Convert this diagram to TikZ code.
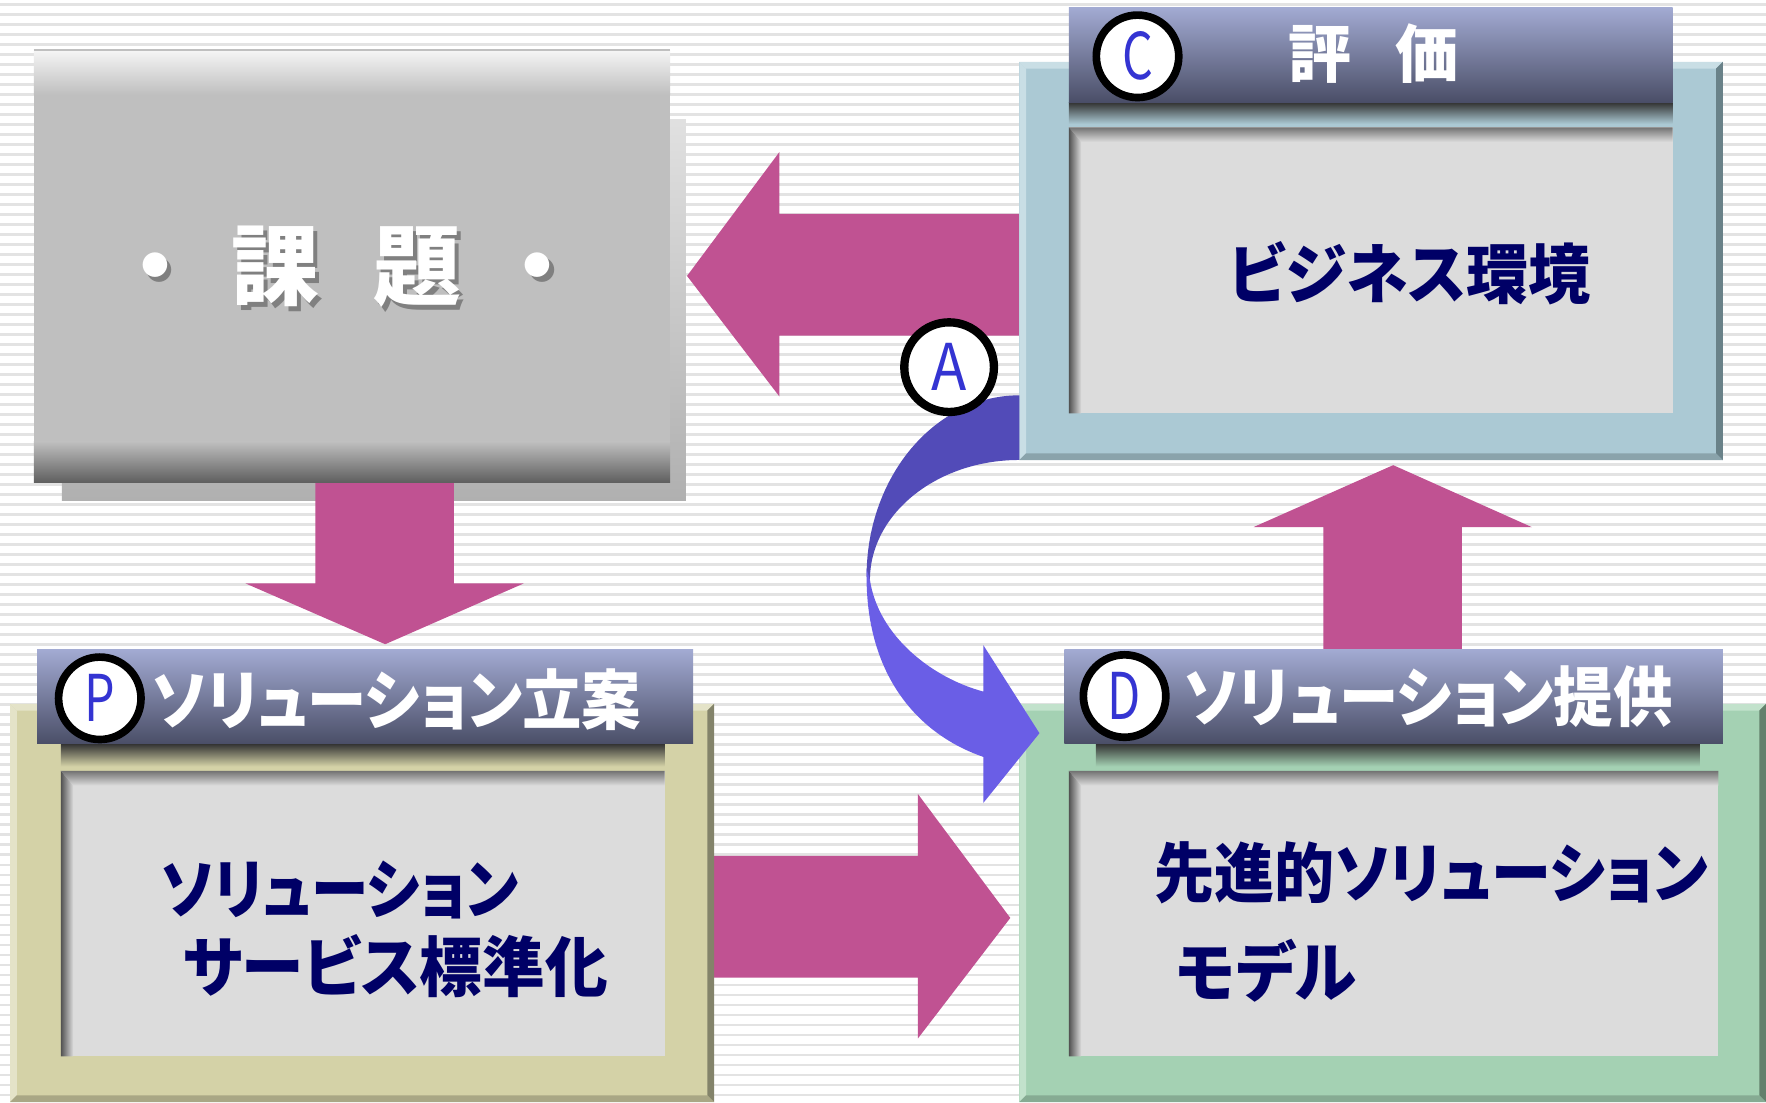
\documentclass[tikz,border=0pt]{standalone}
\usepackage{graphicx}
\usepackage{fontspec}
\newfontfamily\jp{Noto Sans CJK JP}[RawFeature=+palt]
\newfontfamily\jpfw{Noto Sans CJK JP}
\usetikzlibrary{calc}
\definecolor{mag}{HTML}{C05292}
\definecolor{stripe}{HTML}{E3E3E3}
\definecolor{tbtop}{HTML}{A2AAD2}
\definecolor{tbbot}{HTML}{4A4E67}
\definecolor{panel}{HTML}{DCDCDC}
\definecolor{navy}{HTML}{000066}
\definecolor{lettr}{HTML}{3434D2}
\definecolor{gfront}{HTML}{BFBFBF}
\definecolor{Cbase}{HTML}{ABC9D4}\definecolor{Clight}{HTML}{C9DEE5}\definecolor{Cright}{HTML}{6A8289}\definecolor{Cbot}{HTML}{8AA3AB}
\definecolor{Pbase}{HTML}{D4D2A7}\definecolor{Plight}{HTML}{E4E3C8}\definecolor{Pright}{HTML}{83836A}\definecolor{Pbot}{HTML}{A9A785}
\definecolor{Dbase}{HTML}{A4D1B3}\definecolor{Dlight}{HTML}{C2E2CC}\definecolor{Dright}{HTML}{63806C}\definecolor{Dbot}{HTML}{86AB93}
\definecolor{arrA}{HTML}{524BB8}
\definecolor{arrB}{HTML}{6A5EE6}
% x1 y1 x2 y2 base light right bottom
\newcommand\bevbox[8]{%
  \fill[#5] (#1,#2) rectangle (#3,#4);
  \fill[#6] (#1,#2) -- (#3,#2) -- (#3-6,#2+6) -- (#1+6,#2+6) -- cycle;
  \fill[#6] (#1,#2) -- (#1+6,#2+6) -- (#1+6,#4-6) -- (#1,#4) -- cycle;
  \fill[#7] (#3,#2) -- (#3,#4) -- (#3-6,#4-6) -- (#3-6,#2+6) -- cycle;
  \fill[#8] (#1,#4) -- (#3,#4) -- (#3-6,#4-6) -- (#1+6,#4-6) -- cycle;
}
% inner panel x1 y1 x2 y2
\newcommand\insetpanel[4]{%
  \fill[panel] (#1,#2) rectangle (#3,#4);
  \shade[top color=black!55, bottom color=panel] (#1,#2) -- (#3,#2) -- (#3,#2+13) -- (#1+11,#2+13) -- cycle;
  \shade[left color=black!68, right color=panel] (#1,#2) -- (#1+11,#2+13) -- (#1+11,#4) -- (#1,#4) -- cycle;
}
\newcommand\titlebar[8]{% bar x1 y1 x2 y2, shadow x1 x2, base colour, height
  \shade[top color=black!80, bottom color=#7] (#5,#4) rectangle (#6,#4+#8);
  \shade[top color=tbtop, bottom color=tbbot] (#1,#2) rectangle (#3,#4);
}
\newcommand\narrow[2]{\scalebox{#1}[1]{#2}}
\tikzset{
  mag arrow/.style={fill=mag},
  badge/.style={circle, draw=black, line width=3.4pt, fill=white, minimum size=36.6pt, inner sep=0pt,
    text=lettr, font=\jpfw\fontsize{28.6}{30}\selectfont},
  bartext/.style={anchor=west, inner sep=0pt, text=white, font=\jp\bfseries\fontsize{29}{32}\selectfont},
  paneltext/.style={anchor=west, inner sep=0pt, text=navy, font=\jp\bfseries\fontsize{29}{32}\selectfont},
}
\begin{document}
\begin{tikzpicture}[x=0.5pt,y=-0.5pt]
\useasboundingbox (0,0) rectangle (1568,978.5);
\fill[white] (0,0) rectangle (1568,978.5);
\foreach \i in {0,...,110} {\fill[stripe] (0,{\i*8.88+3}) rectangle (1568,{\i*8.88+5.6});}

% ---- 課題 box
\shade[top color=black!12, bottom color=black!31] (55,106.5) rectangle (609,444.5);
\fill[mag arrow] (280,428) -- (403,428) -- (403,518) -- (465,518) -- (342,572) -- (218,518) -- (280,518) -- cycle;
\fill[gfront] (30,44.5) rectangle (595,428.5);
\shade[top color=black!4, bottom color=gfront] (30,44.5) rectangle (595,84);
\shade[top color=gfront, bottom color=black!63] (30,392) rectangle (595,428.5);
\draw[black!25, line width=0.6pt] (30,44.5) -- (595,44.5);
\node[text=black!50, font=\jpfw\bfseries\fontsize{39}{40}\selectfont, inner sep=0pt] (kadaishadow) at (311.6,241)
  {・\hspace{14.5pt}課\hspace{24pt}題\hspace{14.5pt}・};
\node[text=white, font=\jpfw\bfseries\fontsize{39}{40}\selectfont, inner sep=0pt] (kadai) at (307.6,237)
  {・\hspace{14.5pt}課\hspace{24pt}題\hspace{14.5pt}・};

% ---- magenta arrows behind boxes
\fill[mag arrow] (905,190) -- (692,190) -- (692,135) -- (610,245) -- (692,352) -- (692,298) -- (905,298) -- cycle;
\fill[mag arrow] (1175,577) -- (1175,468) -- (1113,468) -- (1237,413) -- (1360,468) -- (1298,468) -- (1298,577) -- cycle;
\fill[mag arrow] (633,760) -- (815,760) -- (815,705) -- (897,815) -- (815,922) -- (815,868) -- (633,868) -- cycle;

% ---- C box
\bevbox{905}{55}{1529.6}{408.5}{Cbase}{Clight}{Cright}{Cbot}
\insetpanel{949}{113}{1485}{367}
\titlebar{949}{7}{1485}{91}{949}{1485}{Cbase}{19}
\node[badge] (badgeC) at (1010,50) {\narrow{0.75}{C}};
\node[text=white, font=\jpfw\bfseries\fontsize{28}{30}\selectfont, inner sep=0pt] (hyoka) at (1219.5,48) {評\hspace{19.5pt}価};
\node[paneltext] (bizenv) at (1091,242.5) {\narrow{0.95}{ビジネス環境}};

% ---- P box
\bevbox{9}{625}{634}{978.5}{Pbase}{Plight}{Pright}{Pbot}
\insetpanel{54}{684.5}{590}{938}
\titlebar{33}{577}{615.5}{660.5}{54}{590}{Pbase}{20}
\node[badge] (badgeP) at (88.6,620) {\narrow{0.75}{P}};
\node[bartext] (plan) at (135,621.5) {\narrow{0.91}{ソリューション立案}};
\node[paneltext] (planA) at (142.7,790) {\narrow{0.88}{ソリューション}};
\node[paneltext] (planB) at (162,857.5) {\narrow{0.96}{サービス標準化}};

% ---- D box
\bevbox{905}{625}{1568}{978.5}{Dbase}{Dlight}{Dright}{Dbot}
\insetpanel{949}{684.5}{1525.6}{938}
\titlebar{945}{577}{1529.7}{660.5}{973}{1509}{Dbase}{20}
\node[badge] (badgeD) at (998.5,618) {\narrow{0.75}{D}};
\node[bartext] (provide) at (1051,619) {\narrow{0.91}{ソリューション提供}};
\node[paneltext] (modelA) at (1024.5,775) {\narrow{0.92}{先進的ソリューション}};
\node[paneltext] (modelB) at (1044,862) {\narrow{0.96}{モデル}};

% ---- curved blue arrow (A)
\fill[arrA] (905,351) .. controls (830.1,351) and (769.4,423.1) .. (769.4,512)
  -- (772.4,515) .. controls (772.4,456.2) and (831.8,408.4) .. (905,408.4) -- cycle;
\fill[arrB] (769.4,505) -- (769.4,512) .. controls (769.4,600) and (815,652) .. (873,672)
  -- (873,713) -- (922.9,651) -- (873,572.7) -- (873,614)
  .. controls (828,602) and (780,565) .. (772.4,515) -- cycle;
\node[badge, line width=3.7pt, minimum size=39.8pt] (badgeA) at (842.7,326) {\narrow{0.9}{A}};
\end{tikzpicture}
\end{document}
